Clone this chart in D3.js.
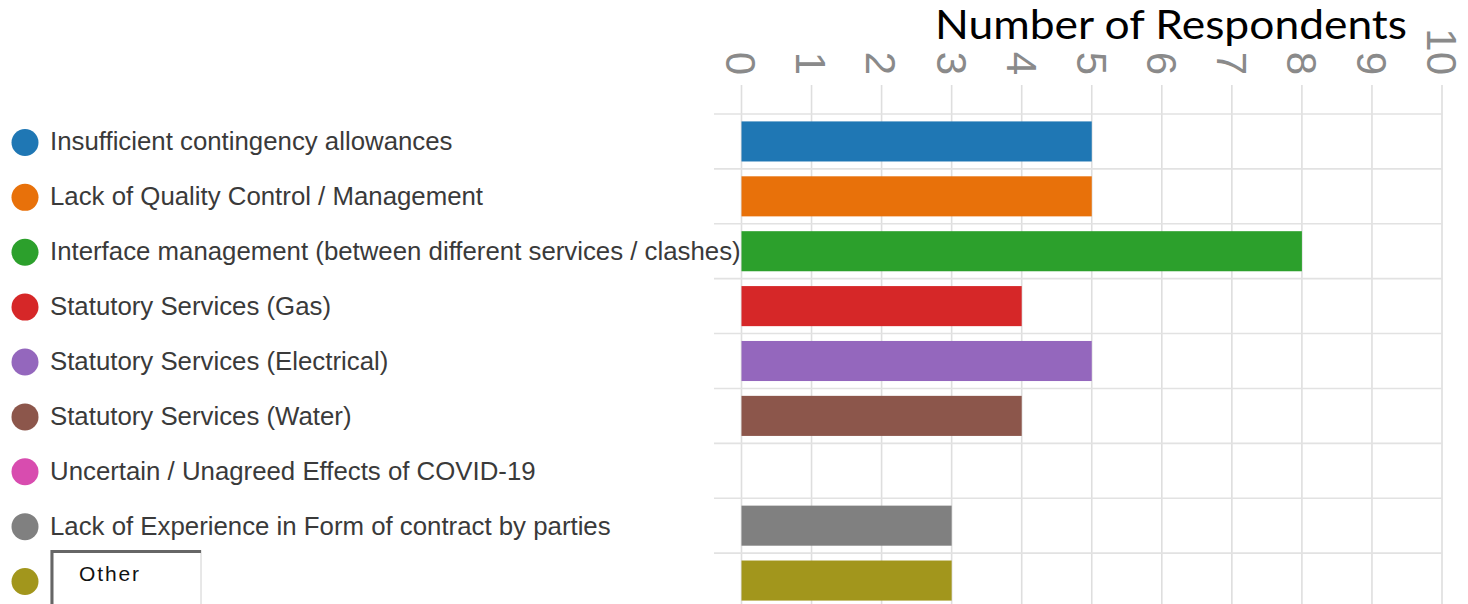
<!DOCTYPE html>
<html>
<head>
<meta charset="utf-8">
<script src="https://cdn.jsdelivr.net/npm/d3@7"></script>
<style>
  body { margin: 0; background: #fff; }
  svg { display: block; }
</style>
</head>
<body>
<svg id="chart"></svg>
<script>
const width = 1468, height = 604;

const categories = [
    "Insufficient contingency allowances",
    "Lack of Quality Control / Management",
    "Interface management (between different services / clashes)",
    "Statutory Services (Gas)",
    "Statutory Services (Electrical)",
    "Statutory Services (Water)",
    "Uncertain / Unagreed Effects of COVID-19",
    "Lack of Experience in Form of contract by parties",
    "Other"
];
const counts = [5, 5, 8, 4, 5, 4, 0, 3, 3];
const colors = ["#1f77b4", "#e8710a", "#2ca02c", "#d62728", "#9467bd",
                "#8c564b", "#d84caf", "#808080", "#a2961c"];
const xTicks = [0, 1, 2, 3, 4, 5, 6, 7, 8, 9, 10];
const axisTitle = "Number of Respondents";

const data = categories.map((c, i) => ({name: c, value: counts[i], color: colors[i]}));

const svg = d3.select("#chart").attr("width", width).attr("height", height);

const x = d3.scaleLinear().domain([0, 10]).range([741.5, 1442]);
const y = d3.scaleBand().domain(categories).range([114, 608]).paddingInner(0.27).paddingOuter(0.135);
const step = y.step();

// grid
const grid = svg.append("g").attr("class", "grid");
grid.selectAll(".vline")
    .data(xTicks)
    .enter().append("line")
    .attr("class", "vline")
    .attr("x1", d => x(d)).attr("x2", d => x(d))
    .attr("y1", 85).attr("y2", height)
    .attr("stroke", "#dedede").attr("stroke-width", 1.6);

grid.selectAll(".hline")
    .data(d3.range(categories.length + 1))
    .enter().append("line")
    .attr("class", "hline")
    .attr("x1", 714).attr("x2", x(10))
    .attr("y1", i => 114 + i * step).attr("y2", i => 114 + i * step)
    .attr("stroke", "#e2e2e2").attr("stroke-width", 1.6);

// tick labels, rotated
svg.append("g").attr("class", "x-axis")
    .selectAll("text")
    .data(xTicks)
    .enter().append("text")
    .attr("transform", d => "translate(" + x(d) + ",75) rotate(90)")
    .attr("dy", "0.36em")
    .style("text-anchor", "end")
    .style("font-family", "'Liberation Sans', Arial, sans-serif")
    .style("font-size", "42px")
    .style("fill", "#8a8a8a")
    .text(d => d);

// axis title
svg.append("text")
    .attr("x", 935).attr("y", 39)
    .attr("textLength", 472)
    .attr("lengthAdjust", "spacingAndGlyphs")
    .style("font-family", "Lato, 'Open Sans', sans-serif")
    .style("font-size", "40px")
    .style("fill", "#000")
    .text(axisTitle);

// bars
svg.selectAll(".bar")
    .data(data)
    .enter().append("rect")
    .attr("class", "bar")
    .attr("x", x(0))
    .attr("y", d => y(d.name))
    .attr("width", d => x(d.value) - x(0))
    .attr("height", y.bandwidth())
    .style("fill", d => d.color);

// legend
const legend = svg.append("g").attr("class", "legend");
const items = legend.selectAll(".legend-item")
    .data(data)
    .enter().append("g")
    .attr("class", "legend-item")
    .attr("transform", d => "translate(0," + (y(d.name) + y.bandwidth() / 2) + ")");

items.append("circle")
    .attr("cx", 25).attr("cy", 1)
    .attr("r", 13.5)
    .style("fill", d => d.color);

items.filter(d => d.name !== "Other").append("text")
    .attr("x", 50).attr("y", 9)
    .style("font-family", "'Liberation Sans', Arial, sans-serif")
    .style("font-size", "25.8px")
    .style("fill", "#3a3a3a")
    .text(d => d.name);

// "Other" entry drawn as an input box
const other = items.filter(d => d.name === "Other");
other.append("rect")
    .attr("x", 51).attr("y", -30)
    .attr("width", 150).attr("height", 60)
    .style("fill", "#fff")
    .style("stroke", "#d0d0d0").style("stroke-width", 1);
other.append("path")
    .attr("d", "M52,32 V-29 H201")
    .style("fill", "none")
    .style("stroke", "#666").style("stroke-width", 3);
other.append("text")
    .attr("x", 79).attr("y", 0)
    .attr("textLength", 60)
    .style("font-family", "'Liberation Sans', Arial, sans-serif")
    .style("font-size", "21px")
    .style("fill", "#111")
    .text(d => d.name);
</script>
</body>
</html>
